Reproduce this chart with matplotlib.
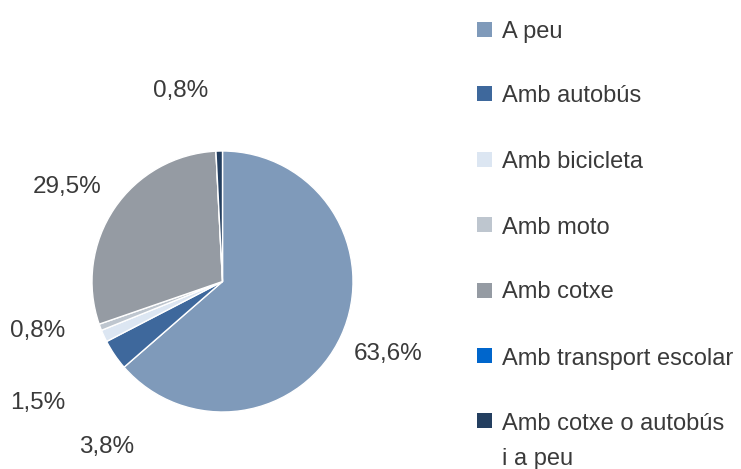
import matplotlib
matplotlib.use("Agg")
import matplotlib.pyplot as plt
from matplotlib.patches import Rectangle

# ---------------------------------------------------------------- dades
categories = ["A peu", "Amb autobús", "Amb bicicleta", "Amb moto", "Amb cotxe",
              "Amb transport escolar", "Amb cotxe o autobús\ni a peu"]
values = [63.6, 3.8, 1.5, 0.8, 29.5, 0.0, 0.8]
colors = ["#7f9aba", "#3e689c", "#dce6f2", "#bec6cf", "#959ba3", "#0066cc", "#243f60"]

# etiquetes de percentatge (posició manual, com a l'original), en píxels
label_pos = {0: (388, 360), 1: (107, 453), 2: (38, 409), 3: (38, 337),
             4: (67, 193), 6: (181, 97)}

TEXT = "#3a3a3a"
W, H = 741, 469

plt.rcParams["font.family"] = ["Liberation Sans", "DejaVu Sans"]

fig = plt.figure(figsize=(W / 100, H / 100), dpi=100)
ax = fig.add_axes([0, 0, 1, 1])

ax.pie(values, colors=colors, startangle=90, counterclock=False,
       center=(222.5, H - 281.5), radius=130.5, frame=True,
       wedgeprops=dict(edgecolor="white", linewidth=1.0))
ax.set_xlim(0, W)
ax.set_ylim(0, H)
ax.set_aspect("equal")
ax.axis("off")

for i, (x, y) in label_pos.items():
    ax.text(x, H - y, f"{values[i]:.1f}%".replace(".", ","), ha="center",
            va="baseline", fontsize=17.5, color=TEXT)

# llegenda manual (quadres alineats amb la primera línia, com fa Excel)
leg_y = [29, 93, 159, 225, 290, 356, 421]
for c, lab, y in zip(colors, categories, leg_y):
    ax.add_patch(Rectangle((477, H - y - 7.5), 15, 15, color=c, lw=0))
    for k, line in enumerate(lab.split("\n")):
        ax.text(502, H - y - 36 * k, line, ha="left", va="center_baseline",
                fontsize=17, color=TEXT)

fig.savefig("out.png", dpi=100)
